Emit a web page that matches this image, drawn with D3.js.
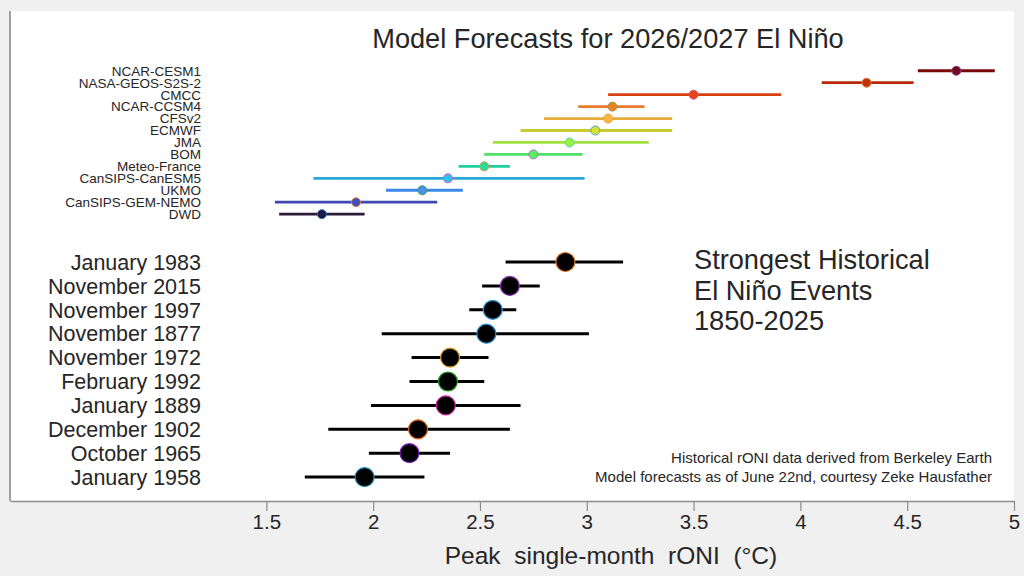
<!DOCTYPE html>
<html>
<head>
<meta charset="utf-8">
<script src="https://cdn.jsdelivr.net/npm/d3@7"></script>
<style>
  body { margin: 0; background: #f0f0f0; }
  svg text { font-family: "Liberation Sans", Arial, sans-serif; fill: #262626; }
</style>
</head>
<body>
<svg id="chart"></svg>
<script>
// model forecasts, top row first
var models = ["NCAR-CESM1", "NASA-GEOS-S2S-2", "CMCC", "NCAR-CCSM4", "CFSv2", "ECMWF", "JMA",
              "BOM", "Meteo-France", "CanSIPS-CanESM5", "UKMO", "CanSIPS-GEM-NEMO", "DWD"];
var modelPeak = [4.73, 4.31, 3.50, 3.12, 3.10, 3.04, 2.92, 2.75, 2.52, 2.35, 2.23, 1.92, 1.76];
var modelLow  = [4.55, 4.10, 3.10, 2.96, 2.80, 2.69, 2.56, 2.52, 2.40, 1.72, 2.06, 1.54, 1.56];
var modelHigh = [4.91, 4.53, 3.91, 3.27, 3.40, 3.40, 3.29, 2.98, 2.64, 2.99, 2.42, 2.30, 1.96];

// strongest historical events, top row first
var events = ["January 1983", "November 2015", "November 1997", "November 1877", "November 1972",
              "February 1992", "January 1889", "December 1902", "October 1965", "January 1958"];
var eventPeak = [2.90, 2.64, 2.56, 2.53, 2.36, 2.35, 2.34, 2.21, 2.17, 1.96];
var eventLow  = [2.62, 2.51, 2.45, 2.04, 2.18, 2.17, 1.99, 1.79, 1.98, 1.68];
var eventHigh = [3.17, 2.78, 2.67, 3.01, 2.54, 2.52, 2.69, 2.64, 2.36, 2.24];

var xTicks = [1.5, 2, 2.5, 3, 3.5, 4, 4.5, 5];

// colours
var modelLine = ["#7a0a0a", "#b8280a", "#d8400f", "#e87a2c", "#e6aa3a", "#c8cc30", "#a0e040",
                 "#50e068", "#20d0a0", "#28a8d8", "#3c88e8", "#3e48b0", "#2c1a3a"];
var modelDot  = ["#6e0a1e", "#c0300a", "#e8441a", "#f08020", "#f8b840", "#d8e030", "#98f040",
                 "#58ee60", "#20e0a0", "#30c0e8", "#4890f0", "#4050c0", "#1c1848"];
var modelEdge = ["#8a3a9a", "#e08040", "#e0507a", "#909a50", "#f0a040", "#5aa0d0", "#60d0d0",
                 "#b070d0", "#e09040", "#e050d0", "#40a060", "#e09040", "#3070b0"];
var eventEdge = ["#e07820", "#9030c0", "#30a0e0", "#2090d0", "#e0a020", "#20a020", "#d020a0",
                 "#e06010", "#8020c0", "#2090c0"];

var W = 1024, H = 576;
var box = {left: 10, right: 1014, top: 11, bottom: 501};

var svg = d3.select("#chart").attr("width", W).attr("height", H);

svg.append("rect").attr("width", W).attr("height", H).attr("fill", "#f0f0f0");
svg.append("rect")
   .attr("x", box.left).attr("y", box.top)
   .attr("width", box.right - box.left).attr("height", box.bottom - box.top)
   .attr("fill", "#ffffff");

var xScale = d3.scaleLinear().domain([0.3, 5]).range([box.left, box.right]);
var yScale = d3.scaleLinear().domain([0, 20.5]).range([box.bottom, box.top]);

// row positions in y units
var eventRow = function(i){ return 10 - i; };
var modelRow = function(i){ return 18 - 0.5 * i; };

// left spine
svg.append("line")
   .attr("x1", box.left).attr("x2", box.left)
   .attr("y1", box.top).attr("y2", box.bottom)
   .attr("stroke", "#a0a0a0").attr("stroke-width", 2);

// x axis
var xAxis = d3.axisBottom(xScale).tickValues(xTicks).tickSize(10).tickSizeOuter(0).tickPadding(3)
              .tickFormat(d3.format("~g"));
var ax = svg.append("g")
   .attr("transform", "translate(0," + box.bottom + ")")
   .call(xAxis);
ax.select(".domain").attr("stroke", "#8c8c8c").attr("stroke-width", 1.5);
ax.selectAll(".tick line").attr("stroke", "#8c8c8c").attr("stroke-width", 1.2);
ax.selectAll(".tick text").style("font-size", "20.5px").attr("fill", "#262626");

svg.append("text")
   .attr("x", 611).attr("y", 564)
   .attr("text-anchor", "middle")
   .style("font-size", "24.5px")
   .style("white-space", "pre")
   .text("Peak  single-month  rONI  (°C)");

// title
svg.append("text")
   .attr("x", 608).attr("y", 48)
   .attr("text-anchor", "middle")
   .style("font-size", "27.2px")
   .text("Model Forecasts for 2026/2027 El Niño");

// model forecasts
var mg = svg.append("g");
models.forEach(function(name, i){
    var y = yScale(modelRow(i));
    mg.append("text")
      .attr("x", 201).attr("y", y)
      .attr("dy", "0.36em")
      .attr("text-anchor", "end")
      .style("font-size", "13.5px")
      .text(name);
    mg.append("line")
      .attr("x1", xScale(modelLow[i])).attr("x2", xScale(modelHigh[i]))
      .attr("y1", y).attr("y2", y)
      .attr("stroke", modelLine[i]).attr("stroke-width", 2.8);
    mg.append("circle")
      .attr("cx", xScale(modelPeak[i])).attr("cy", y)
      .attr("r", 4.5)
      .attr("fill", modelDot[i])
      .attr("stroke", modelEdge[i]).attr("stroke-width", 1);
});

// historical events
var hg = svg.append("g");
events.forEach(function(name, i){
    var y = yScale(eventRow(i));
    hg.append("text")
      .attr("x", 201).attr("y", y)
      .attr("dy", "0.36em")
      .attr("text-anchor", "end")
      .style("font-size", "21.5px")
      .text(name);
    hg.append("line")
      .attr("x1", xScale(eventLow[i])).attr("x2", xScale(eventHigh[i]))
      .attr("y1", y).attr("y2", y)
      .attr("stroke", "#000000").attr("stroke-width", 3);
    hg.append("circle")
      .attr("cx", xScale(eventPeak[i])).attr("cy", y)
      .attr("r", 9.5)
      .attr("fill", "#000000")
      .attr("stroke", eventEdge[i]).attr("stroke-width", 1.2);
});

// annotations
var note = svg.append("text").attr("x", 694).attr("y", 269).style("font-size", "27.2px");
["Strongest Historical", "El Niño Events", "1850-2025"].forEach(function(t, i){
    note.append("tspan").attr("x", 694).attr("dy", i == 0 ? 0 : 30.5).text(t);
});

svg.append("text")
   .attr("x", 992).attr("y", 463)
   .attr("text-anchor", "end")
   .style("font-size", "15px")
   .text("Historical rONI data derived from Berkeley Earth");
svg.append("text")
   .attr("x", 992).attr("y", 482)
   .attr("text-anchor", "end")
   .style("font-size", "15px")
   .text("Model forecasts as of June 22nd, courtesy Zeke Hausfather");
</script>
</body>
</html>
